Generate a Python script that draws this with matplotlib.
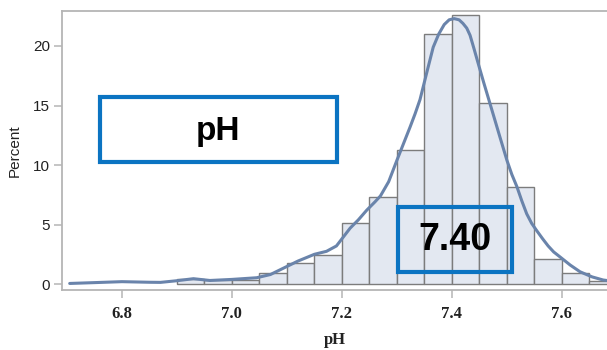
import matplotlib
matplotlib.use('Agg')
import matplotlib.pyplot as plt
from matplotlib.patches import Rectangle

COLORS = {
    'bar_face': '#e3e8f1',
    'bar_edge': '#7c7c7c',
    'curve': '#6a84ab',
    'spine': '#b5b5b5',
    'box': '#0b74c2',
    'text': '#222222',
}

# histogram bins (left edges) and percent heights
bin_left = [6.90, 6.95, 7.00, 7.05, 7.10, 7.15, 7.20, 7.25, 7.30, 7.35,
            7.40, 7.45, 7.50, 7.55, 7.60, 7.65]
bin_pct = [0.4, 0.3, 0.35, 0.93, 1.8, 2.4, 5.1, 7.3, 11.3, 21.0,
           22.6, 15.2, 8.15, 2.1, 0.9, 0.25]
bin_width = 0.05

# density curve
curve_x = [6.705, 6.75, 6.80, 6.85, 6.87, 6.90, 6.93, 6.96, 7.00, 7.045,
           7.07, 7.093, 7.12, 7.15, 7.172, 7.19, 7.20, 7.215, 7.23, 7.245,
           7.26, 7.27, 7.285, 7.30, 7.312, 7.324, 7.333, 7.342, 7.355, 7.366,
           7.376, 7.386, 7.395, 7.404, 7.413, 7.42, 7.427, 7.433, 7.44, 7.448,
           7.458, 7.469, 7.478, 7.487, 7.50, 7.509, 7.518, 7.527, 7.536, 7.545,
           7.554, 7.565, 7.575, 7.585, 7.596, 7.615, 7.633, 7.655, 7.675, 7.69]
curve_y = [0.05, 0.12, 0.2, 0.15, 0.14, 0.28, 0.45, 0.3, 0.39, 0.53,
           0.8, 1.32, 1.93, 2.5, 2.75, 3.2, 3.8, 4.7, 5.4, 6.2,
           6.9, 7.4, 8.6, 10.4, 11.8, 13.2, 14.3, 15.5, 17.9, 19.9,
           21.0, 21.8, 22.2, 22.3, 22.2, 21.9, 21.5, 20.9, 19.8, 18.5,
           16.9, 15.2, 13.8, 12.4, 10.4, 9.2, 8.2, 7.0, 5.9, 5.1,
           4.5, 3.8, 3.2, 2.7, 2.3, 1.6, 1.03, 0.6, 0.34, 0.25]

x_ticks = [6.8, 7.0, 7.2, 7.4, 7.6]
y_ticks = [0, 5, 10, 15, 20]

fig = plt.figure(figsize=(6.07, 3.5), dpi=100)
ax = fig.add_axes([62 / 607, 60 / 350, 545 / 607, 279 / 350])

ax.bar(bin_left, bin_pct, width=bin_width, align='edge',
       color=COLORS['bar_face'], edgecolor=COLORS['bar_edge'], linewidth=1.0,
       zorder=2)
ax.plot(curve_x, curve_y, color=COLORS['curve'], linewidth=2.2, zorder=3,
        solid_capstyle='round', solid_joinstyle='round')

ax.set_xlim(6.691, 7.682)
ax.set_ylim(-0.5, 22.94)

ax.spines['right'].set_visible(False)
for side in ['left', 'bottom', 'top']:
    ax.spines[side].set_color(COLORS['spine'])
    ax.spines[side].set_linewidth(1.3)

ax.set_xticks(x_ticks)
ax.set_xticklabels([f'{t:.1f}' for t in x_ticks],
                   fontfamily='Liberation Serif', fontweight='bold', fontsize=12)
ax.set_yticks(y_ticks)
ax.set_yticklabels([str(t) for t in y_ticks],
                   fontfamily='Liberation Sans', fontsize=11)
ax.tick_params(axis='both', colors=COLORS['spine'], labelcolor=COLORS['text'],
               length=5.5, width=1.1)
ax.tick_params(axis='x', pad=6)
ax.tick_params(axis='y', pad=3)

ax.set_xlabel('pH', fontfamily='Liberation Serif', fontweight='bold',
              fontsize=12, color=COLORS['text'], labelpad=7)
ax.set_ylabel('Percent', fontfamily='Liberation Sans', fontsize=11,
              color=COLORS['text'], labelpad=8)

# highlighted boxes
fig.patches.append(Rectangle((100 / 607, 188 / 350), 237 / 607, 65 / 350,
                             transform=fig.transFigure, fill=False,
                             edgecolor=COLORS['box'], linewidth=3, zorder=5))
fig.text(218.5 / 607, 219 / 350, 'pH', ha='center', va='center',
         fontfamily='Liberation Sans', fontweight='bold', fontsize=24,
         color='black')

fig.patches.append(Rectangle((398 / 607, 78 / 350), 114 / 607, 65 / 350,
                             transform=fig.transFigure, fill=False,
                             edgecolor=COLORS['box'], linewidth=3, zorder=5))
fig.text(455 / 607, 110 / 350, '7.40', ha='center', va='center',
         fontfamily='Liberation Sans', fontweight='bold', fontsize=27,
         color='black')

fig.savefig('out.png', dpi=100, facecolor='white')
